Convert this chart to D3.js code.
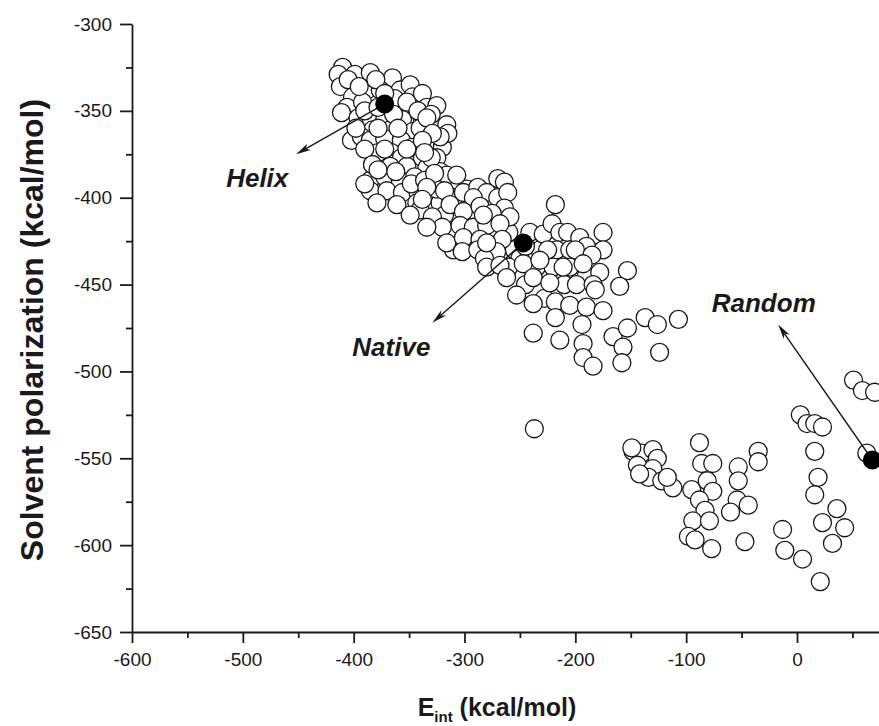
<!DOCTYPE html>
<html><head><meta charset="utf-8">
<script src="https://cdn.jsdelivr.net/npm/d3@7"></script>
<style>body{margin:0;background:#fff}svg{display:block}</style>
</head><body>
<svg id="c" width="879" height="726"></svg>
<script>
// ---- data ----
const xTicks = [-600,-500,-400,-300,-200,-100,0];
const xMinor = [-550,-450,-350,-250,-150,-50,50];
const yTicks = [-650,-600,-550,-500,-450,-400,-350,-300];
const yMinor = [-625,-575,-525,-475,-425,-375,-325];

// E_int (kcal/mol) of sampled conformations
const eint = [
-410,-399,-414,-385,-412,-401,-388,-406,-392,-411,-396,-384,-365,-358,-349,-347,-338,-334,-349,-358,
-372,-356,-338,-325,-327,-367,-383,-347,-316,-402,-393,-385,-372,-357,-334,-347,-320,-378,-366,-357,
-338,-325,-383,-367,-352,-334,-322,-385,-372,-358,-345,-331,-385,-370,-356,-342,-329,-379,-361,-343,
-322,-316,-315,-376,-363,
-405,-395,-380,-372,-390,-378,-364,-352,-342,-330,-398,-378,-360,-340,-322,-390,-372,-352,-330,-383,
-390,-378,-362,-348,-336,-340,-325,-310,-318,-308,-295,-298,-280,-270,-290,-276,-260,-255,-310,
-334,-329,-338,-336,-327,-307,-334,-318,-301,-288,-270,-264,-280,-292,-270,-261,-313,-338,-329,-301,
-286,-264,-275,-259,-320,-304,-292,-280,-268,-334,-316,-301,-286,-266,-302,-288,-271,-250,-232,-241,
-229,-218,-221,-214,-207,-217,-196,-190,-175,-175,-205,-349,-282,
-260,-245,-235,-225,-220,-205,-200,-210,-190,-245,-228,
-283,-280,-185,-178,-280,-268,-247,-232,-211,-193,-262,-238,-223,-199,-184,-253,-238,-218,-205,-190,
-175,-218,-194,-153,-160,-238,-214,-193,-193,-184,-166,-153,-157,-158,-137,-126,-107,-124,-182,-237,
-148,-140,-149,-130,-126,-144,-130,-134,-122,-142,-112,-117,-95,-88,-86,-76,-81,-76,-88,-83,
-94,-79,-98,-92,-77,-54,-44,-60,-53,-53,-35,-35,-47,-13,-11,5,21,36,23,43,
32,19,16,16,3,9,16,23,51,59,70,63
];
// Solvent polarization (kcal/mol)
const spol = [
-325,-329,-329,-328,-336,-342,-338,-348,-345,-351,-354,-355,-331,-338,-335,-342,-340,-348,-348,-350,
-355,-355,-355,-347,-359,-361,-361,-362,-358,-367,-365,-367,-366,-367,-370,-371,-371,-374,-374,-377,
-377,-377,-381,-382,-382,-383,-385,-390,-388,-390,-388,-390,-396,-396,-397,-397,-397,-403,-404,-403,
-403,-387,-363,-338,-343,
-332,-336,-332,-340,-350,-348,-352,-345,-350,-352,-360,-360,-360,-360,-365,-372,-372,-372,-377,-381,
-392,-384,-385,-392,-390,-407,-395,-400,-410,-420,-410,-395,-405,-410,-425,-422,-420,-430,-430,
-354,-363,-367,-374,-386,-387,-394,-396,-397,-394,-389,-391,-397,-400,-400,-397,-404,-401,-411,-408,
-405,-406,-409,-411,-417,-416,-417,-416,-415,-417,-426,-423,-424,-424,-431,-430,-431,-435,-430,-420,
-421,-404,-415,-420,-420,-430,-423,-428,-420,-430,-430,-410,-435,
-440,-428,-440,-430,-440,-440,-430,-450,-445,-450,-458,
-410,-426,-433,-443,-440,-439,-438,-436,-440,-438,-446,-446,-449,-450,-450,-456,-461,-460,-462,-463,
-465,-469,-473,-442,-451,-478,-482,-484,-492,-497,-480,-475,-486,-495,-469,-473,-470,-489,-453,-533,
-546,-547,-544,-545,-550,-554,-556,-561,-563,-559,-567,-561,-568,-541,-553,-553,-563,-569,-574,-580,
-586,-586,-595,-597,-602,-574,-577,-581,-555,-563,-546,-552,-598,-591,-603,-608,-621,-579,-587,-590,
-599,-561,-571,-546,-525,-530,-530,-532,-505,-511,-512,-547
];

// highlighted reference structures
const refNames = ["Helix","Native","Random"];
const refEint  = [-372,-247,68];
const refSpol  = [-346,-426,-551];
// annotation arrow tips and label anchors (data units)
const tipEint   = [-452,-329,-17];
const tipSpol   = [-375,-472,-473];
const labelEint = [-487,-366,-30];
const labelSpol = [-394,-491,-466];

// ---- drawing ----
const W = 879, H = 726;
const svg = d3.select("#c");
const FONT = "'Liberation Sans', Arial, Helvetica, sans-serif";
const left = 132, zeroPx = 797;
const xMax = -600 + (W - left) * 600 / (zeroPx - left);
const x = d3.scaleLinear().domain([-600, xMax]).range([left, W]);
const y = d3.scaleLinear().domain([-650, -300]).range([632, 24]);

const ink = "#1a1a1a";

function styleAxis(g){
  g.select(".domain").attr("stroke", ink).attr("stroke-width", 1.8);
  g.selectAll(".tick line").attr("stroke", ink).attr("stroke-width", 1.8);
  g.selectAll(".tick text").attr("fill", ink).style("font-family", FONT).style("font-size", "19px");
}

// x axis
const gx = svg.append("g").attr("transform", `translate(0,${y(-650)})`)
  .call(d3.axisBottom(x).tickValues(xTicks).tickFormat(d => String(d))
        .tickSize(11).tickSizeOuter(0).tickPadding(10));
styleAxis(gx);
const gxm = svg.append("g").attr("transform", `translate(0,${y(-650)})`)
  .call(d3.axisBottom(x).tickValues(xMinor).tickFormat("").tickSize(6).tickSizeOuter(0));
gxm.select(".domain").remove(); styleAxis(gxm);

// y axis
const gy = svg.append("g").attr("transform", `translate(${x(-600)},0)`)
  .call(d3.axisLeft(y).tickValues(yTicks).tickFormat(d => String(d))
        .tickSize(12).tickSizeOuter(0).tickPadding(8));
styleAxis(gy);
const gym = svg.append("g").attr("transform", `translate(${x(-600)},0)`)
  .call(d3.axisLeft(y).tickValues(yMinor).tickFormat("").tickSize(6).tickSizeOuter(0));
gym.select(".domain").remove(); styleAxis(gym);

// axis titles
const xt = svg.append("text").attr("x", 497).attr("y", 716).attr("text-anchor", "middle")
  .style("font-family", FONT).style("font-weight", "bold").style("font-size", "25px").attr("fill", ink);
xt.append("tspan").text("E");
xt.append("tspan").attr("dy", 6).style("font-size", "15px").text("int");
xt.append("tspan").attr("dy", -6).text(" (kcal/mol)");

svg.append("text").attr("transform", `translate(43,${(y(-300)+y(-650))/2 + 2}) rotate(-90)`)
  .attr("text-anchor", "middle")
  .style("font-family", FONT).style("font-weight", "bold").style("font-size", "32px").attr("fill", ink)
  .text("Solvent polarization (kcal/mol)");

// scatter points
const pts = eint.map((e, i) => ({e, s: spol[i]}));
svg.append("g").selectAll("circle").data(pts).join("circle")
  .attr("cx", d => x(d.e)).attr("cy", d => y(d.s)).attr("r", 9)
  .attr("fill", "#fff").attr("stroke", ink).attr("stroke-width", 1.3);

// annotation arrows
const ag = svg.append("g");
refNames.forEach((n, i) => {
  const x0 = x(refEint[i]), y0 = y(refSpol[i]);
  const x1 = x(tipEint[i]), y1 = y(tipSpol[i]);
  const ang = Math.atan2(y1 - y0, x1 - x0);
  const L = 15, hw = 3.6;
  const bx = x1 - L * Math.cos(ang), by = y1 - L * Math.sin(ang);
  ag.append("line").attr("x1", x0).attr("y1", y0).attr("x2", bx + 4*Math.cos(ang)).attr("y2", by + 4*Math.sin(ang))
    .attr("stroke", ink).attr("stroke-width", 1.4);
  const px = -Math.sin(ang), py = Math.cos(ang);
  ag.append("path")
    .attr("d", `M${x1},${y1}L${bx + hw*px},${by + hw*py}L${x1 - (L-4)*Math.cos(ang)},${y1 - (L-4)*Math.sin(ang)}L${bx - hw*px},${by - hw*py}Z`)
    .attr("fill", ink);
});

// filled reference points
svg.append("g").selectAll("circle").data(refNames).join("circle")
  .attr("cx", (d, i) => x(refEint[i])).attr("cy", (d, i) => y(refSpol[i])).attr("r", 9.5)
  .attr("fill", "#000");

// labels
svg.append("g").selectAll("text").data(refNames).join("text")
  .attr("x", (d, i) => x(labelEint[i])).attr("y", (d, i) => y(labelSpol[i]))
  .attr("text-anchor", "middle")
  .style("font-family", FONT).style("font-weight", "bold").style("font-style", "italic")
  .style("font-size", "26px").attr("fill", ink)
  .text(d => d);
</script>
</body></html>
